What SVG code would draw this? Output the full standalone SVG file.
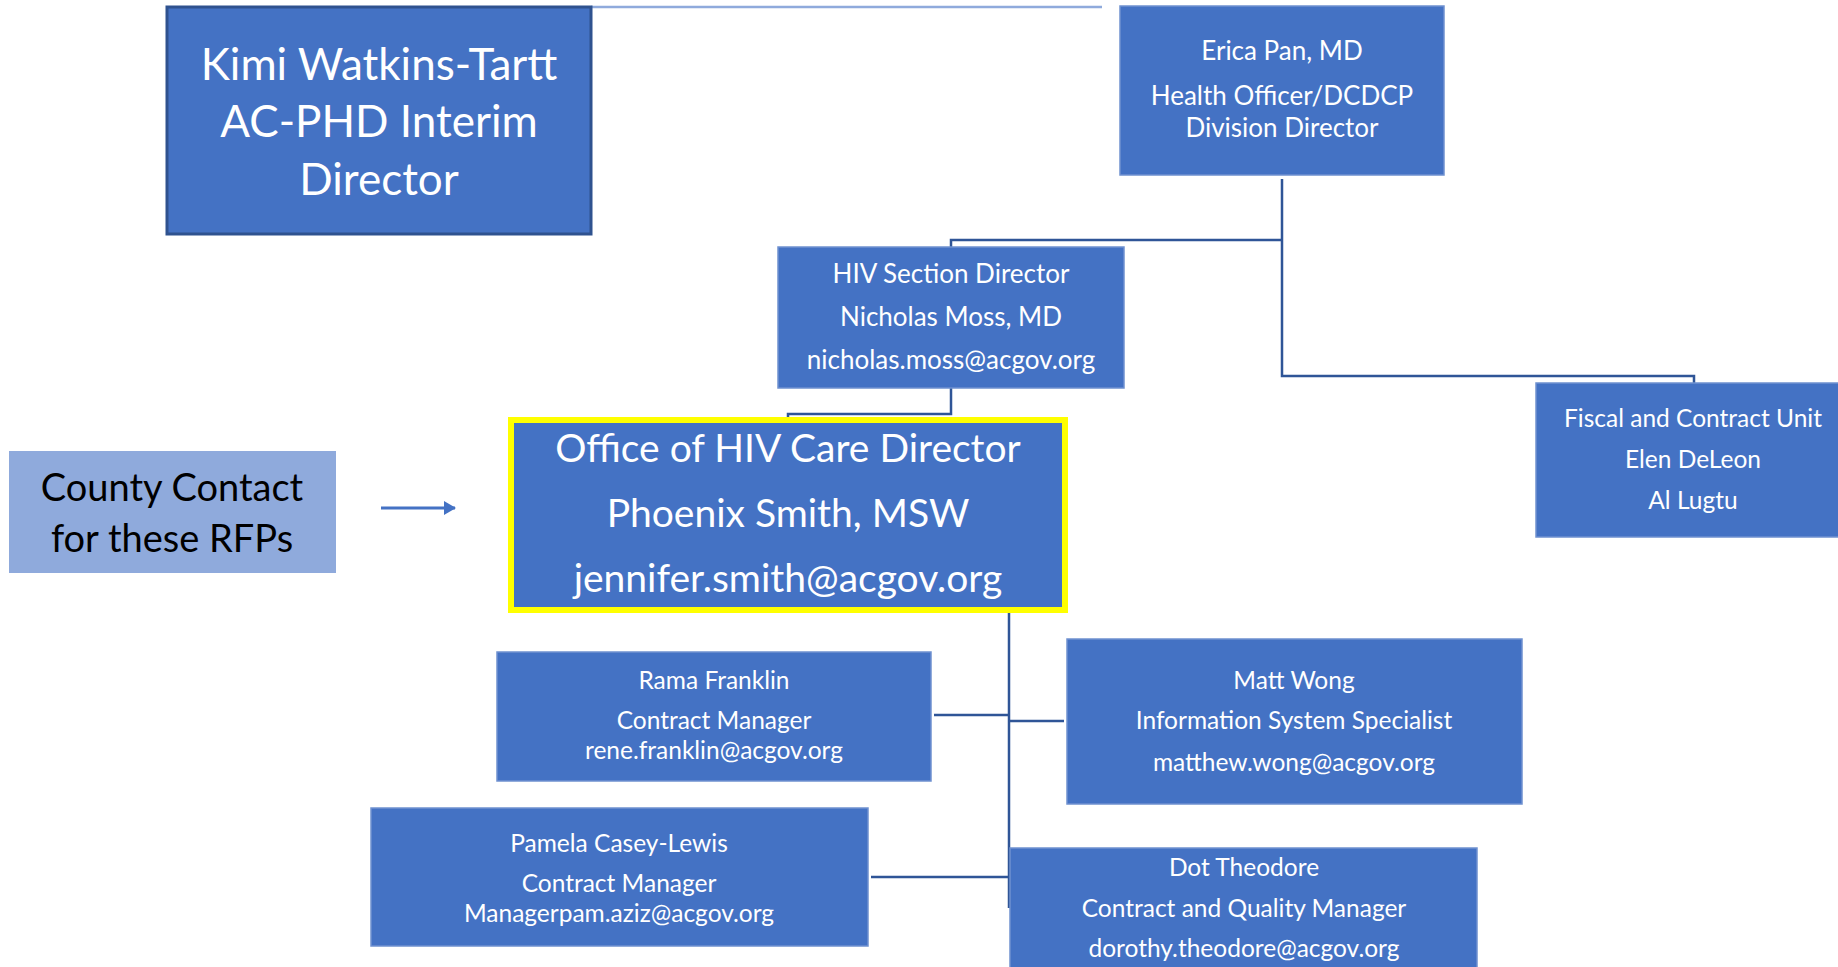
<svg xmlns="http://www.w3.org/2000/svg" width="1838" height="967" viewBox="0 0 1838 967">
<style>
.box{fill:#4472C4;stroke:#6F91D0;stroke-width:1.5}
.t{font-family:Lato,"Open Sans","Liberation Sans",sans-serif;fill:#FFFFFF;text-anchor:middle}
.c{fill:none;stroke:#2F5597;stroke-width:2.5}
</style>
<defs>
<marker id="ah" markerWidth="12" markerHeight="14" refX="11" refY="7" orient="auto" markerUnits="userSpaceOnUse">
<path d="M0,0 L12,7 L0,14 Z" fill="#4472C4"/>
</marker>
</defs>
<rect width="1838" height="967" fill="#FFFFFF"/>
<g id="connectors">
<line x1="591" y1="7" x2="1102" y2="7" stroke="#8FAADC" stroke-width="2.5"/>
<path class="c" d="M1282,179 V376 H1694 V383"/>
<path class="c" d="M1282,240 H951 V247"/>
<path class="c" d="M951,388 V414 H788 V419"/>
<path class="c" d="M1009,613 V908"/>
<path class="c" d="M934,715 H1009"/>
<path class="c" d="M1009,721 H1064"/>
<path class="c" d="M871,877 H1009"/>
<line x1="381" y1="508" x2="455" y2="508" stroke="#4472C4" stroke-width="3" marker-end="url(#ah)"/>
</g>
<g id="kimi">
<rect x="167" y="7" width="424" height="227" fill="#4472C4" stroke="#2F528F" stroke-width="3"/>
<text class="t" font-size="44"><tspan x="379" y="80">Kimi Watkins-Tartt</tspan><tspan x="379" y="137">AC-PHD Interim</tspan><tspan x="379" y="195">Director</tspan></text>
</g>
<g id="erica">
<rect class="box" x="1120" y="6" width="324" height="169"/>
<text class="t" font-size="26"><tspan x="1282" y="60">Erica Pan, MD</tspan><tspan x="1282" y="105">Health Officer/DCDCP</tspan><tspan x="1282" y="137">Division Director</tspan></text>
</g>
<g id="hiv-section">
<rect class="box" x="778" y="247" width="346" height="141"/>
<text class="t" font-size="26"><tspan x="951" y="283">HIV Section Director</tspan><tspan x="951" y="326">Nicholas Moss, MD</tspan><tspan x="951" y="369">nicholas.moss@acgov.org</tspan></text>
</g>
<g id="office-hiv-care">
<rect x="511" y="420" width="554" height="190" fill="#4472C4" stroke="#FFFF00" stroke-width="6"/>
<text class="t" font-size="39"><tspan x="788" y="462">Office of HIV Care Director</tspan><tspan x="788" y="527">Phoenix Smith, MSW</tspan><tspan x="788" y="592">jennifer.smith@acgov.org</tspan></text>
</g>
<g id="county-contact">
<rect x="9" y="451" width="327" height="122" fill="#8FAADC"/>
<text class="t" font-size="38" style="fill:#000000"><tspan x="172" y="501">County Contact</tspan><tspan x="172" y="552">for these RFPs</tspan></text>
</g>
<g id="fiscal">
<rect class="box" x="1536" y="383" width="304" height="154"/>
<text class="t" font-size="24.5"><tspan x="1693" y="427">Fiscal and Contract Unit</tspan><tspan x="1693" y="468">Elen DeLeon</tspan><tspan x="1693" y="509">Al Lugtu</tspan></text>
</g>
<g id="rama">
<rect class="box" x="497" y="652" width="434" height="129"/>
<text class="t" font-size="24.5"><tspan x="714" y="689">Rama Franklin</tspan><tspan x="714" y="729">Contract Manager</tspan><tspan x="714" y="759">rene.franklin@acgov.org</tspan></text>
</g>
<g id="matt">
<rect class="box" x="1067" y="639" width="455" height="165"/>
<text class="t" font-size="24.5"><tspan x="1294" y="689">Matt Wong</tspan><tspan x="1294" y="729">Information System Specialist</tspan><tspan x="1294" y="771">matthew.wong@acgov.org</tspan></text>
</g>
<g id="pamela">
<rect class="box" x="371" y="808" width="497" height="138"/>
<text class="t" font-size="24.5"><tspan x="619" y="852">Pamela Casey-Lewis</tspan><tspan x="619" y="892">Contract Manager</tspan><tspan x="619" y="922">Managerpam.aziz@acgov.org</tspan></text>
</g>
<g id="dot">
<rect class="box" x="1010" y="848" width="467" height="125"/>
<text class="t" font-size="24.5"><tspan x="1244" y="876">Dot Theodore</tspan><tspan x="1244" y="917">Contract and Quality Manager</tspan><tspan x="1244" y="957">dorothy.theodore@acgov.org</tspan></text>
</g>
</svg>
